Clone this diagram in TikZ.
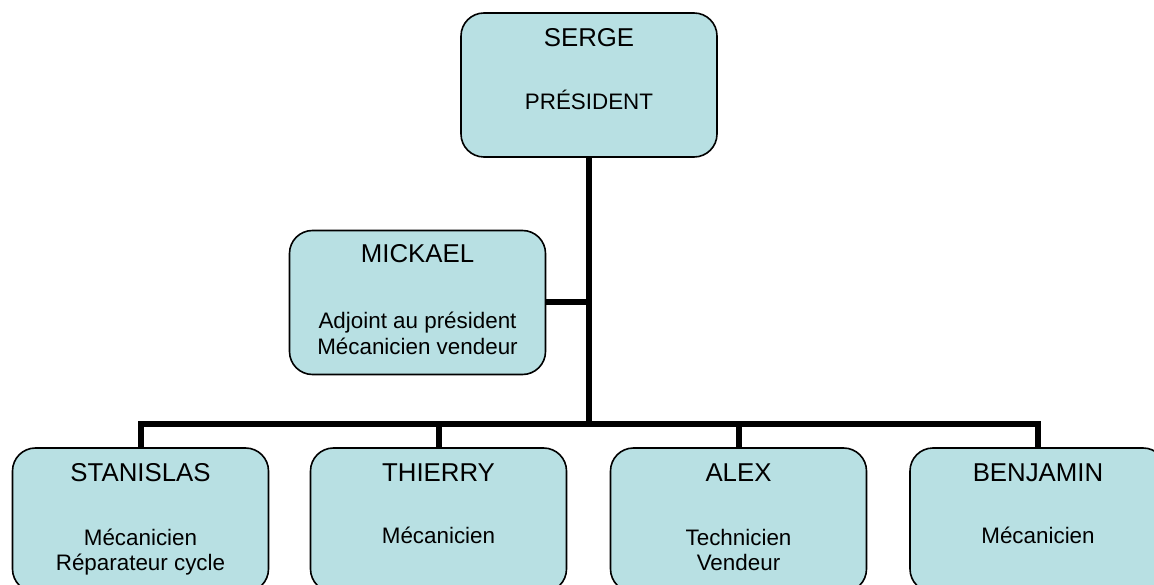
\documentclass[tikz,border=0pt]{standalone}
\usepackage{fontspec}
\setmainfont{Liberation Sans}
\definecolor{boxfill}{RGB}{184,224,227}
\begin{document}
\begin{tikzpicture}[x=1pt,y=-1pt,
  person/.style={draw=black, line width=1.6pt, fill=boxfill, rounded corners=23pt,
                 minimum width=256pt, minimum height=144pt, inner sep=0pt},
  pname/.style={anchor=base, font=\fontsize{25.8}{30}\selectfont, inner sep=0pt},
  prole/.style={anchor=base, font=\fontsize{22.4}{26}\selectfont, inner sep=0pt},
  link/.style={line width=6pt, line join=miter}]
\useasboundingbox (0,0) rectangle (1154,585);
\clip (0,0) rectangle (1154,585);

% boxes
\node[person] (serge) at (589,85) {};
\node[person] (mickael) at (417.5,302.5) {};
\node[person] (stanislas) at (140.5,520) {};
\node[person] (thierry) at (438.5,520) {};
\node[person] (alex) at (738.5,520) {};
\node[person] (benjamin) at (1038,520) {};

% texts
\node[pname] (sergeN) at (589,47) {SERGE};
\node[prole] (sergeR) at (589,110) {PRÉSIDENT};

\node[pname] (mickaelN) at (417.5,263) {MICKAEL};
\node[prole] (mickaelR1) at (417.5,329) {Adjoint au président};
\node[prole] (mickaelR2) at (417.5,354) {Mécanicien vendeur};

\node[pname] (stanislasN) at (140.5,481) {STANISLAS};
\node[prole] (stanislasR1) at (140.5,545) {Mécanicien};
\node[prole] (stanislasR2) at (140.5,570) {Réparateur cycle};

\node[pname] (thierryN) at (438.5,481) {THIERRY};
\node[prole] (thierryR) at (438.5,543) {Mécanicien};

\node[pname] (alexN) at (738.5,481) {ALEX};
\node[prole] (alexR1) at (738.5,545) {Technicien};
\node[prole] (alexR2) at (738.5,570) {Vendeur};

\node[pname] (benjaminN) at (1038,481) {BENJAMIN};
\node[prole] (benjaminR) at (1038,543) {Mécanicien};

% connectors
\coordinate (junction) at (589,424);
\draw[link] (serge.south) -- (junction);
\draw[link] (mickael.east) -- (mickael.east -| junction);
\draw[link] (stanislas.north) |- (junction) -| (benjamin.north);
\draw[link] (thierry.north) -- (thierry.north |- junction);
\draw[link] (alex.north) -- (alex.north |- junction);
\end{tikzpicture}
\end{document}
